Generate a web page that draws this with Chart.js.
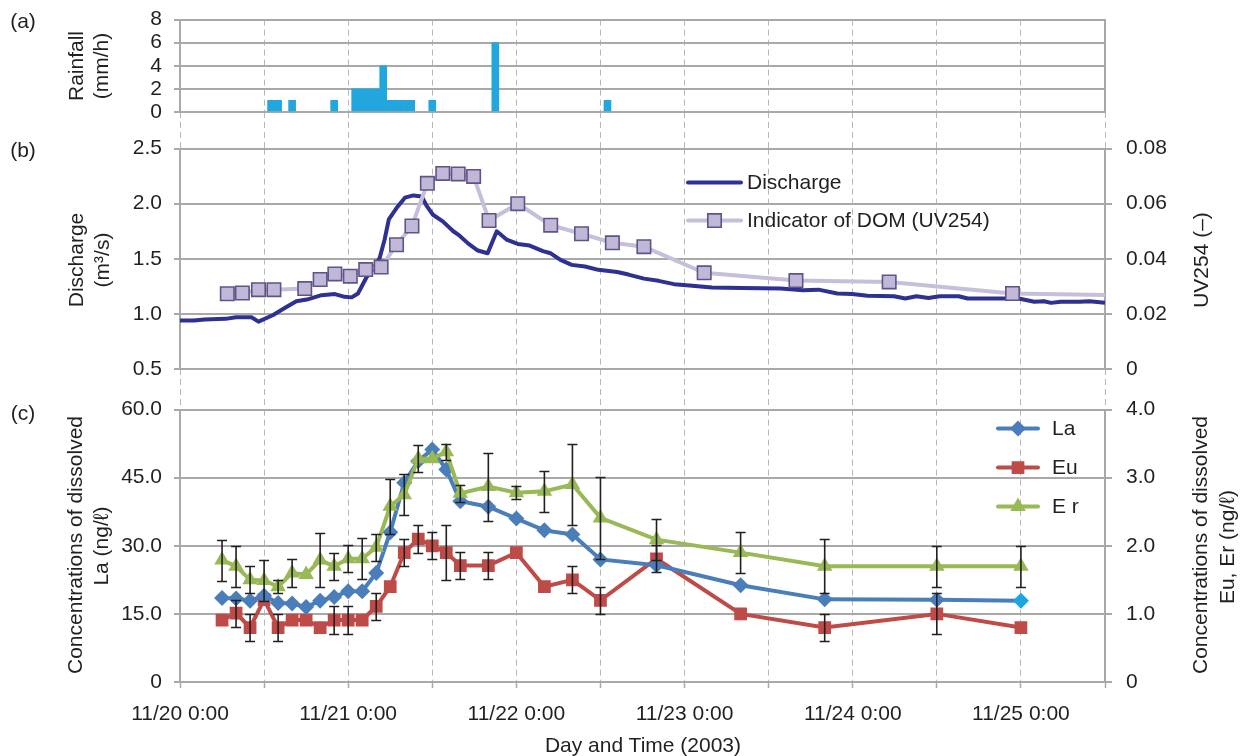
<!DOCTYPE html>
<html>
<head>
<meta charset="utf-8">
<script src="https://cdn.jsdelivr.net/npm/chart.js@4.4.1/dist/chart.umd.min.js"></script>
<style>
  html, body { margin: 0; padding: 0; background: #fff; }
  #fig { position: relative; width: 1240px; height: 756px; overflow: hidden;
         font-family: 'Liberation Sans', Arial, sans-serif; color: #231f20; }
  #fig canvas { position: absolute; left: 0; }
  .lbl { position: absolute; font-size: 21px; line-height: 1; white-space: nowrap;
         transform: translate(-50%, -50%); }
  .rot { transform: translate(-50%, -50%) rotate(-90deg); }
</style>
</head>
<body>
<div id="fig">
  <canvas id="rain" width="1240" height="150"></canvas>
  <canvas id="flow" width="1240" height="280"></canvas>
  <canvas id="ree" width="1240" height="361"></canvas>

  <div class="lbl" style="left:23px;top:20px">(a)</div>
  <div class="lbl" style="left:23px;top:149px">(b)</div>
  <div class="lbl" style="left:23px;top:412px">(c)</div>

  <div class="lbl rot" style="left:75px;top:66px">Rainfall</div>
  <div class="lbl rot" style="left:100px;top:66px">(mm/h)</div>
  <div class="lbl rot" style="left:75px;top:260px">Discharge</div>
  <div class="lbl rot" style="left:101px;top:260px">(m³/s)</div>
  <div class="lbl rot" style="left:74px;top:545px">Concentrations of dissolved</div>
  <div class="lbl rot" style="left:100px;top:546px">La (ng/ℓ)</div>
  <div class="lbl rot" style="left:1200px;top:260px">UV254 (–)</div>
  <div class="lbl rot" style="left:1199px;top:545px">Concentrations of dissolved</div>
  <div class="lbl rot" style="left:1226px;top:547px">Eu, Er (ng/ℓ)</div>
  <div class="lbl" style="left:643px;top:744px">Day and Time (2003)</div>
</div>

<script>
// hours counted from 11/20 0:00
const dayLabels = ['11/20 0:00', '11/21 0:00', '11/22 0:00', '11/23 0:00', '11/24 0:00', '11/25 0:00'];

const rainHours  = [13, 14, 16, 22, 25, 26, 27, 28, 29, 30, 31, 32, 33, 36, 45, 61];
const rainValues = [1, 1, 1, 1, 2, 2, 2, 2, 4, 1, 1, 1, 1, 1, 6, 1];

const qHours = [0, 2, 3.5, 6.5, 8, 10.2, 11.2, 13.3, 15, 16.6, 18.1, 20.2, 22.1, 23.5, 24.5, 25.4,
  26.6, 27.8, 28.5, 29.2, 29.8, 30.9, 32.1, 33.3, 34.5, 35.2, 36.1, 37.5, 39, 39.9, 41.1, 42.5,
  43.9, 45.2, 46.6, 48.2, 49.9, 51.8, 52.9, 54.3, 55.9, 57.8, 59.7, 62.4, 64, 66.2, 68.3, 70.5,
  72.7, 75.9, 80.2, 85.7, 88.9, 91.1, 93.8, 95.9, 98.1, 101.9, 103.5, 105.1, 106.8, 108.4, 111.1,
  112.4, 118.1, 119.7, 121.9, 123.3, 124.3, 125.7, 128.4, 129.8, 132];
const qValues = [0.94, 0.94, 0.95, 0.955, 0.97, 0.97, 0.93, 0.99, 1.055, 1.115, 1.13, 1.17, 1.18,
  1.155, 1.15, 1.185, 1.33, 1.43, 1.51, 1.675, 1.857, 1.96, 2.055, 2.075, 2.065, 1.98, 1.90, 1.84,
  1.75, 1.71, 1.64, 1.575, 1.55, 1.75, 1.675, 1.635, 1.62, 1.57, 1.55, 1.49, 1.445, 1.43, 1.40,
  1.38, 1.357, 1.32, 1.30, 1.27, 1.257, 1.24, 1.235, 1.23, 1.215, 1.22, 1.185, 1.18, 1.165, 1.16,
  1.14, 1.16, 1.145, 1.16, 1.16, 1.14, 1.14, 1.14, 1.11, 1.115, 1.10, 1.11, 1.11, 1.115, 1.10];

const uvHours = [6.75, 8.9, 11.2, 13.4, 17.8, 20, 22.1, 24.3, 26.5, 28.7, 30.9, 33.1, 35.3, 37.5,
  39.7, 41.9, 44.1, 48.2, 52.9, 57.3, 61.7, 66.2, 74.8, 87.9, 101.2, 118.8, 132];
const uvValues = [0.0273, 0.0276, 0.0288, 0.0288, 0.0292, 0.0325, 0.0345, 0.0337, 0.0361, 0.0370,
  0.0451, 0.0519, 0.0674, 0.0710, 0.0708, 0.0699, 0.0539, 0.0600, 0.0522, 0.0491, 0.0458, 0.0444,
  0.0349, 0.0321, 0.0316, 0.0274, 0.0269];

const sampleHours = [6, 8, 10, 12, 14, 16, 18, 20, 22, 24, 26, 28, 30, 32, 34, 36, 38, 40, 44, 48,
  52, 56, 60, 68, 80, 92, 108, 120];
const laValues = [18.5, 18.4, 17.9, 19.0, 17.4, 17.3, 16.5, 17.9, 18.75, 20.0, 20.0, 24.0, 33.0,
  43.9, 48.7, 51.2, 46.8, 39.8, 38.6, 36.0, 33.4, 32.5, 27.0, 25.7, 21.3, 18.2, 18.1, 17.9];
const euValues = [0.91, 1.01, 0.80, 1.21, 0.80, 0.91, 0.91, 0.80, 0.91, 0.91, 0.91, 1.11, 1.40,
  1.90, 2.10, 2.00, 1.90, 1.71, 1.71, 1.90, 1.40, 1.50, 1.20, 1.81, 1.00, 0.80, 1.00, 0.80];
const erValues = [1.79, 1.70, 1.50, 1.49, 1.40, 1.60, 1.58, 1.79, 1.70, 1.81, 1.81, 1.98, 2.58,
  2.75, 3.28, 3.28, 3.38, 2.77, 2.87, 2.78, 2.80, 2.90, 2.41, 2.09, 1.90, 1.70, 1.70, 1.70];
const euErrors = [0, 0.2, 0.2, 0, 0.2, 0, 0, 0, 0.2, 0.2, 0, 0.2, 0, 0.2, 0.2, 0.2, 0.4, 0.2, 0.2,
  0, 0, 0.2, 0.2, 0.2, 0, 0.2, 0.3, 0];
const erErrors = [0.3, 0.3, 0.2, 0.3, 0.1, 0.2, 0, 0.4, 0.2, 0.2, 0.3, 0.2, 0.4, 0.3, 0.2, 0, 0.12,
  0.12, 0.5, 0.1, 0.3, 0.6, 0.6, 0.3, 0.3, 0.4, 0.3, 0.3];

const FONT = "'Liberation Sans', Arial, sans-serif";
const INK = '#231f20';
const GRID = '#a9a9a9';
const DASH = '#b7b7b7';

Chart.defaults.font.family = FONT;
Chart.defaults.font.size = 21;
Chart.defaults.color = INK;
Chart.defaults.animation = false;
Chart.defaults.plugins.legend.display = false;
Chart.defaults.plugins.tooltip.enabled = false;

const pts = (xs, ys) => xs.map((x, i) => ({x: x, y: ys[i]}));

function xAxis(height, tickLength, bottomAxis) {
    return {
        type: 'linear', min: 0, max: 132, offset: false,
        ticks: {
            stepSize: 12, autoSkip: false, maxRotation: 0, display: bottomAxis, padding: 14,
            callback: v => (v % 24 === 0 ? dayLabels[v / 24] : '')
        },
        grid: {
            color: DASH, lineWidth: 1, offset: false, tickLength: tickLength,
            tickColor: bottomAxis ? GRID : DASH, tickWidth: bottomAxis ? 1.5 : 1,
            tickBorderDash: bottomAxis ? [] : [6, 4]
        },
        border: { display: bottomAxis, dash: [6, 4], color: GRID, width: 2 },
        afterFit: s => { s.height = height; }
    };
}

function leftAxis(min, max, step, fmt) {
    return {
        position: 'left', min: min, max: max,
        ticks: { stepSize: step, padding: 12, autoSkip: false, callback: fmt },
        grid: { color: GRID, lineWidth: 2, tickLength: 6 },
        border: { display: true, color: GRID, width: 2 },
        afterFit: s => { s.width = 180; }
    };
}

function rightAxis(min, max, step, fmt) {
    return {
        position: 'right', min: min, max: max,
        ticks: { stepSize: step, padding: 14, autoSkip: false, callback: fmt, display: !!fmt },
        grid: { drawOnChartArea: false, color: GRID, lineWidth: 2, tickLength: 7, display: !!fmt },
        border: { display: true, color: GRID, width: 2 },
        afterFit: s => { s.width = 135; }
    };
}

// whiskers for datasets that carry an `errors` list
const errorBars = {
    id: 'errorBars',
    afterDatasetsDraw(chart) {
        const ctx = chart.ctx;
        chart.data.datasets.forEach((ds, di) => {
            if (!ds.errors) return;
            const meta = chart.getDatasetMeta(di);
            const ys = chart.scales[ds.yAxisID];
            ctx.save();
            ctx.strokeStyle = INK;
            ctx.lineWidth = 1.6;
            meta.data.forEach((p, i) => {
                const e = ds.errors[i];
                if (!e) return;
                const v = ds.data[i].y;
                const t = Math.round(ys.getPixelForValue(v + e)) + 0.5;
                const b = Math.round(ys.getPixelForValue(v - e)) + 0.5;
                ctx.beginPath();
                ctx.moveTo(p.x, t); ctx.lineTo(p.x, b);
                ctx.moveTo(p.x - 5, t); ctx.lineTo(p.x + 5, t);
                ctx.moveTo(p.x - 5, b); ctx.lineTo(p.x + 5, b);
                ctx.stroke();
            });
            ctx.restore();
        });
    }
};

// legend drawn at a fixed spot inside the plot (offsets from the plot's top-left)
const placedLegend = {
    id: 'placedLegend',
    afterDraw(chart, args, o) {
        if (!o.order) return;
        const ctx = chart.ctx;
        const a = chart.chartArea;
        o.order.forEach((di, k) => {
            const ds = chart.data.datasets[di];
            const x = a.left + o.dx;
            const y = a.top + o.dy + k * o.gap;
            ctx.save();
            ctx.strokeStyle = ds.borderColor;
            ctx.lineWidth = ds.borderWidth;
            ctx.lineCap = 'round';
            ctx.beginPath();
            ctx.moveTo(x, y); ctx.lineTo(x + o.len, y);
            ctx.stroke();
            if (ds.pointStyle && Chart.helpers && Chart.helpers.drawPoint) {
                const fill = Array.isArray(ds.pointBackgroundColor) ? ds.pointBackgroundColor[0] : ds.pointBackgroundColor;
                const r = Array.isArray(ds.pointRadius) ? ds.pointRadius[0] : ds.pointRadius;
                ctx.fillStyle = fill;
                ctx.strokeStyle = ds.pointBorderColor;
                ctx.lineWidth = ds.pointBorderWidth || 0;
                Chart.helpers.drawPoint(ctx, {pointStyle: ds.pointStyle, radius: r, rotation: 0,
                    borderWidth: ds.pointBorderWidth || 0}, x + o.len / 2, y);
            }
            ctx.fillStyle = INK;
            ctx.font = '21px ' + FONT;
            ctx.textBaseline = 'middle';
            ctx.fillText(ds.label, x + o.len + o.textGap, y + 1);
            ctx.restore();
        });
    }
};

// build a chart, then move/resize its canvas so the plot box lands on [top, bottom]
function placeChart(id, config, top, bottom, xHeight) {
    const canvas = document.getElementById(id);
    canvas.style.top = '0px';
    let chart = new Chart(canvas, config);
    const offset = chart.chartArea.top;
    chart.destroy();
    canvas.width = 1240;
    canvas.height = Math.round(bottom - top + offset + xHeight);
    canvas.style.width = '1240px';
    canvas.style.height = canvas.height + 'px';
    canvas.style.top = (top - offset) + 'px';
    return new Chart(canvas, config);
}

// (a) rainfall
placeChart('rain', {
    type: 'bar',
    data: {
        datasets: [{
            data: pts(rainHours, rainValues), yAxisID: 'y',
            backgroundColor: '#21a6de', borderWidth: 0, barPercentage: 1, categoryPercentage: 1
        }]
    },
    options: {
        responsive: false, maintainAspectRatio: false,
        scales: {
            x: xAxis(38, 38, false),
            y: leftAxis(0, 8, 2, v => v),
            y2: rightAxis(0, 8, 2, null)
        }
    }
}, 20, 112, 38);

// (b) discharge and UV254
placeChart('flow', {
    type: 'line',
    data: {
        datasets: [{
            label: 'Indicator of DOM (UV254)', data: pts(uvHours, uvValues), yAxisID: 'y2', order: 0,
            borderColor: '#c6bfd9', borderWidth: 4, tension: 0,
            pointStyle: 'rect', pointRadius: uvHours.map((h, i) => (i === uvHours.length - 1 ? 0 : 9.5)),
            pointBackgroundColor: '#c1b8d8', pointBorderColor: '#5f5387', pointBorderWidth: 1.6
        }, {
            label: 'Discharge', data: pts(qHours, qValues), yAxisID: 'y', order: 1,
            borderColor: '#2e3192', borderWidth: 4, pointRadius: 0, tension: 0, borderJoinStyle: 'round'
        }]
    },
    options: {
        responsive: false, maintainAspectRatio: false,
        scales: {
            x: xAxis(41, 41, false),
            y: leftAxis(0.5, 2.5, 0.5, v => v.toFixed(1)),
            y2: rightAxis(0, 0.08, 0.02, v => (v === 0 ? '0' : v.toFixed(2)))
        },
        plugins: {
            placedLegend: { order: [1, 0], dx: 508, dy: 34, gap: 38, len: 53, textGap: 6 }
        }
    },
    plugins: [placedLegend]
}, 149, 369, 41);

// (c) dissolved REE
placeChart('ree', {
    type: 'line',
    data: {
        datasets: [{
            label: 'E r', data: pts(sampleHours, erValues), yAxisID: 'y2', order: 0, errors: erErrors,
            borderColor: '#98b954', borderWidth: 4, tension: 0,
            pointStyle: 'triangle', pointRadius: 9, pointBackgroundColor: '#98b954',
            pointBorderColor: '#98b954', pointBorderWidth: 0
        }, {
            label: 'La', data: pts(sampleHours, laValues), yAxisID: 'y', order: 1,
            borderColor: '#4a7ebb', borderWidth: 4, tension: 0,
            pointStyle: 'rectRot', pointRadius: 8,
            pointBackgroundColor: sampleHours.map((h, i) => (i === sampleHours.length - 1 ? '#1aa7e0' : '#4a7ebb')),
            pointBorderColor: '#4a7ebb', pointBorderWidth: 0
        }, {
            label: 'Eu', data: pts(sampleHours, euValues), yAxisID: 'y2', order: 2, errors: euErrors,
            borderColor: '#be4b48', borderWidth: 4, tension: 0,
            pointStyle: 'rect', pointRadius: 9, pointBackgroundColor: '#be4b48',
            pointBorderColor: '#be4b48', pointBorderWidth: 0
        }]
    },
    options: {
        responsive: false, maintainAspectRatio: false,
        scales: {
            x: xAxis(74, 6, true),
            y: leftAxis(0, 60, 15, v => (v === 0 ? '0' : v.toFixed(1))),
            y2: rightAxis(0, 4, 1, v => (v === 0 ? '0' : v.toFixed(1)))
        },
        plugins: {
            placedLegend: { order: [1, 2, 0], dx: 818, dy: 19, gap: 39, len: 40, textGap: 14 }
        }
    },
    plugins: [errorBars, placedLegend]
}, 410, 682, 74);
</script>
</body>
</html>
